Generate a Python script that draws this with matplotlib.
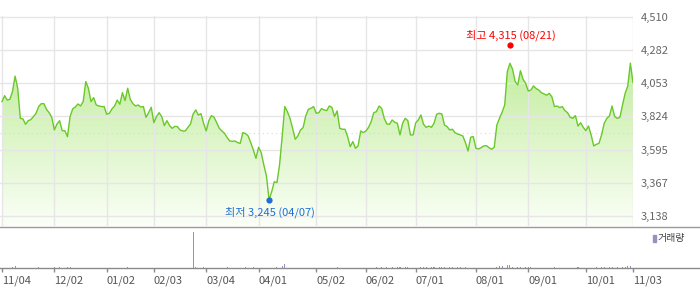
import matplotlib
matplotlib.use("Agg")
import matplotlib.pyplot as plt
import numpy as np
from matplotlib.lines import Line2D
from matplotlib.patches import Rectangle
from matplotlib.colors import to_rgb

plt.rcParams['font.family'] = ['Noto Sans CJK KR', 'DejaVu Sans']

# ---------------- data ----------------
prices = [
    3925, 3966, 3936, 3941, 3994, 4100, 4017, 3810, 3806, 3769,
    3794, 3801, 3822, 3845, 3891, 3911, 3911, 3872, 3849, 3817,
    3730, 3771, 3794, 3725, 3725, 3684, 3822, 3875, 3888, 3909,
    3895, 3925, 4063, 4017, 3925, 3953, 3902, 3895, 3891, 3891,
    3838, 3845, 3875, 3895, 3936, 3907, 3987, 3932, 4017, 3941,
    3911, 3895, 3902, 3888, 3891, 3817, 3849, 3886, 3780, 3822,
    3849, 3822, 3760, 3794, 3760, 3741, 3755, 3753, 3730, 3723,
    3723, 3748, 3771, 3840, 3868, 3833, 3842, 3776, 3723, 3794,
    3829, 3817, 3780, 3741, 3723, 3707, 3677, 3654, 3652, 3654,
    3643, 3638, 3712, 3705, 3689, 3643, 3592, 3535, 3611, 3574,
    3489, 3413, 3250, 3305, 3374, 3367, 3489, 3684, 3891, 3856,
    3810, 3741, 3666, 3689, 3730, 3746, 3826, 3872, 3879, 3891,
    3845, 3849, 3877, 3868, 3863, 3895, 3886, 3822, 3861, 3741,
    3735, 3735, 3684, 3615, 3650, 3604, 3620, 3723, 3712, 3723,
    3748, 3787, 3849, 3856, 3895, 3879, 3810, 3771, 3769, 3799,
    3783, 3776, 3696, 3776, 3810, 3794, 3696, 3696, 3778, 3799,
    3833, 3769, 3748, 3757, 3748, 3776, 3838, 3845, 3840, 3764,
    3753, 3730, 3735, 3712, 3702, 3696, 3689, 3643, 3585, 3680,
    3684, 3604, 3599, 3608, 3620, 3622, 3608, 3597, 3611, 3764,
    3810, 3852, 3902, 4132, 4189, 4148, 4063, 4040, 4138, 4079,
    4051, 3998, 4005, 4033, 4015, 4005, 3987, 3978, 3969, 3982,
    3959, 3891, 3895, 3884, 3891, 3863, 3849, 3817, 3810, 3829,
    3757, 3780, 3748, 3725, 3757, 3696, 3620, 3631, 3638, 3696,
    3776, 3810, 3826, 3895, 3822, 3810, 3817, 3902, 3982, 4033,
    4190, 4055,
]

tick_idx = [0, 20, 40, 58, 78, 98, 120, 139, 158, 181, 201, 223, 241]
tick_labels = ["11/04", "12/02", "01/02", "02/03", "03/04", "04/01", "05/02",
               "06/02", "07/01", "08/01", "09/01", "10/01", "11/03"]

y_ticks = [3138, 3367, 3595, 3824, 4053, 4282, 4510]
y_tick_labels = ["3,138", "3,367", "3,595", "3,824", "4,053", "4,282", "4,510"]

high_idx, high_value, high_label = 194, 4315, "최고 4,315 (08/21)"
low_idx, low_value, low_label = 102, 3245, "최저 3,245 (04/07)"
ref_level = 3710

vol_idx = [4, 5, 14, 20, 22, 25, 26, 48, 73, 74, 77, 86, 93, 96, 105, 107, 108,
           128, 143, 145, 147, 149, 151, 152, 154, 155, 160, 161, 162, 164, 165,
           167, 168, 169, 171, 172, 174, 175, 177, 189, 190, 191, 193, 194, 195,
           197, 198, 200, 201, 202, 211, 220, 227, 229, 230, 232, 233, 235, 237,
           238, 239, 240]
vol_values = [30, 60, 30, 40, 30, 30, 30, 25, 1000, 30, 25, 25, 25, 25, 40, 50, 100,
              20, 20, 20, 20, 20, 25, 25, 25, 25, 25, 25, 25, 25, 25,
              25, 25, 25, 25, 25, 25, 25, 25, 40, 50, 45, 80, 70, 40,
              30, 30, 30, 30, 30, 20, 25, 25, 25, 25, 25, 30, 30, 30,
              40, 50, 50]
vol_legend = "거래량"

# ---------------- layout helpers ----------------
W, H = 700, 289
fig = plt.figure(figsize=(W / 100, H / 100), dpi=100)


def rect(x0, y0, x1, y1):
    return [x0 / W, 1 - y1 / H, (x1 - x0) / W, (y1 - y0) / H]


px_per = 631 / 241
xlim = (-2 / px_per, 241)

# ---------------- price panel ----------------
ax = fig.add_axes(rect(0, 16.2, 633, 226))
x = np.arange(len(prices))
ymin, ymax = 3069, 4513
ax.set_xlim(*xlim)
ax.set_ylim(ymin, ymax)

# gradient fill under the line
grad = np.linspace(0, 1, 256)[:, None]
top = np.array(to_rgb('#b3e887'))
bot = np.array(to_rgb('#fbfff7'))
img = top[None, None, :] * (1 - grad[..., None]) + bot[None, None, :] * grad[..., None]
im = ax.imshow(img, extent=[xlim[0], xlim[1], ymin, ymax], origin='upper',
               aspect='auto', zorder=1)
poly = ax.fill_between(x, prices, ymin, color='none', lw=0)
im.set_clip_path(poly.get_paths()[0], transform=ax.transData)

for v in y_ticks:
    ax.axhline(v, color='#e6e6e6', lw=1, zorder=2)
for i in tick_idx:
    ax.axvline(i, color='#e6e6e6', lw=1, zorder=2)
ax.axhline(ref_level, color='#d9d9d9', lw=0.8, ls=(0, (1, 3)), zorder=2)

ax.plot(x, prices, color='#6ac82a', lw=1.0, zorder=4)

ax.plot([high_idx], [high_value], 'o', color='#ff0000', ms=4.5, mec='none',
        zorder=5, clip_on=False)
ax.annotate(high_label, (high_idx, high_value), xytext=(1, 10),
            textcoords='offset pixels', ha='center', va='center',
            fontsize=8, color='#ff0000', zorder=6, annotation_clip=False)
ax.plot([low_idx], [low_value], 'o', color='#1f6fd6', ms=4.5, mec='none',
        zorder=5, clip_on=False)
ax.annotate(low_label, (low_idx, low_value), xytext=(1, -12),
            textcoords='offset pixels', ha='center', va='center',
            fontsize=8, color='#1f6fd6', zorder=6, annotation_clip=False)

for s in ax.spines.values():
    s.set_visible(False)
ax.set_xticks([])
ax.yaxis.tick_right()
ax.set_yticks(y_ticks)
ax.set_yticklabels(y_tick_labels)
ax.tick_params(axis='y', length=0, pad=5.5, labelsize=8, labelcolor='#666666')

# ---------------- volume panel ----------------
ax2 = fig.add_axes(rect(0, 226.5, 633, 268))
ax2.set_xlim(*xlim)
ax2.set_ylim(0, 1140)
ax2.bar(vol_idx, vol_values, width=0.42, color='#9b8fc2', lw=0)
for s in ax2.spines.values():
    s.set_visible(False)
ax2.set_yticks([])
ax2.set_xticks(tick_idx)
ax2.set_xticklabels(tick_labels, ha='left')
ax2.tick_params(axis='x', direction='out', length=3, width=1, color='#8a8a8a',
                pad=2.5, labelsize=8, labelcolor='#555555')

# full-width separator lines
fig.add_artist(Line2D([0, 1], [1 - 226.5 / H] * 2, color='#9a9a9a', lw=1))
fig.add_artist(Line2D([0, 1], [1 - 268 / H] * 2, color='#8a8a8a', lw=1))

# volume legend
fig.add_artist(Rectangle((653 / W, 1 - 242 / H), 2.5 / W, 7.5 / H,
                         color='#9b8fc2', transform=fig.transFigure))
fig.text(657.5 / W, 1 - 238.5 / H, vol_legend, ha='left', va='center',
         fontsize=7.2, color='#444444')

fig.savefig("out.png", dpi=100)
